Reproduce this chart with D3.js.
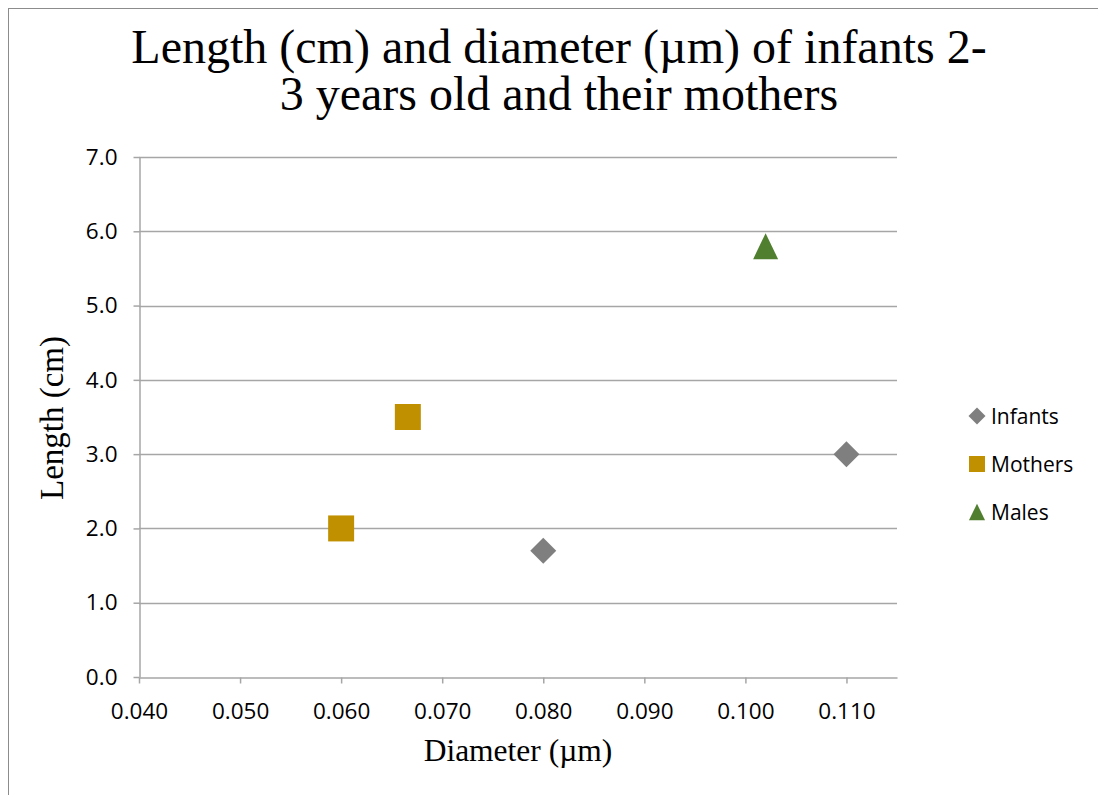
<!DOCTYPE html>
<html>
<head>
<meta charset="utf-8">
<script src="https://cdn.jsdelivr.net/npm/d3@7"></script>
<style>
  body { margin: 0; background: #fff; }
  svg { display: block; }
</style>
</head>
<body>
<div class="chart"></div>
<script>
const w = 1098;
const h = 795;

// data
const seriesNames = ["Infants", "Mothers", "Males"];
const infantsX = [0.080, 0.110];
const infantsY = [1.7, 3.0];
const mothersX = [0.060, 0.0666];
const mothersY = [2.0, 3.5];
const malesX = [0.102];
const malesY = [5.8];
const xTicks = [0.04, 0.05, 0.06, 0.07, 0.08, 0.09, 0.10, 0.11];
const yTicks = [0, 1, 2, 3, 4, 5, 6, 7];
const titleLines = ["Length (cm) and diameter (\u00b5m) of infants 2-", "3 years old and their mothers"];

const colors = {Infants: "#7f7f7f", Mothers: "#c09000", Males: "#4f7f2f"};

// excel style triangle: a bit taller than equilateral, centred on its box
const triangle = {
  draw(ctx, size) {
    const s = Math.sqrt(size);
    const hw = s * 0.48, hh = s * 0.5;
    ctx.moveTo(0, -hh);
    ctx.lineTo(hw, hh);
    ctx.lineTo(-hw, hh);
    ctx.closePath();
  }
};
const shapes = {Infants: d3.symbolDiamond2, Mothers: d3.symbolSquare2, Males: triangle};
const markSize = {Infants: 430, Mothers: 860, Males: 676};
const keySize = {Infants: 184, Mothers: 326, Males: 280};

const series = [
  {name: "Infants", pts: infantsX.map((x, i) => ({x, y: infantsY[i]}))},
  {name: "Mothers", pts: mothersX.map((x, i) => ({x, y: mothersY[i]}))},
  {name: "Males", pts: malesX.map((x, i) => ({x, y: malesY[i]}))}
];

const svg = d3.select(".chart").append("svg")
  .attr("width", w)
  .attr("height", h);

// outer chart border
svg.append("rect")
  .attr("x", 8.5).attr("y", 8.5)
  .attr("width", w + 10).attr("height", h + 10)
  .attr("fill", "none").attr("stroke", "#8c8c8c");

const plot = {left: 139, right: 897, top: 157, bottom: 677};

const x = d3.scaleLinear().domain([0.04, 0.115]).range([plot.left, plot.right]);
const y = d3.scaleLinear().domain([0, 7]).range([plot.bottom, plot.top]);

// gridlines
svg.append("g")
  .selectAll("line")
  .data(yTicks.filter(d => d > 0))
  .enter().append("line")
  .attr("x1", plot.left).attr("x2", plot.right)
  .attr("y1", d => Math.round(y(d)) + 0.5).attr("y2", d => Math.round(y(d)) + 0.5)
  .attr("stroke", "#a6a6a6").attr("stroke-width", 1.5);

// axes
const tickFont = "'Open Sans', Lato, sans-serif";
const serif = "'Liberation Serif', 'Times New Roman', serif";

const yAxis = svg.append("g")
  .attr("transform", `translate(${plot.left + 0.5},0)`)
  .call(d3.axisLeft(y).tickValues(yTicks).tickFormat(d3.format(".1f")).tickSize(6).tickSizeOuter(0).tickPadding(16));

const xAxis = svg.append("g")
  .attr("transform", `translate(0,${plot.bottom + 0.5})`)
  .call(d3.axisBottom(x).tickValues(xTicks).tickFormat(d3.format(".3f")).tickSize(6).tickSizeOuter(0).tickPadding(20));

[xAxis, yAxis].forEach(ax => {
  ax.select(".domain").attr("stroke", "#a6a6a6").attr("stroke-width", 1.5);
  ax.selectAll(".tick line").attr("stroke", "#a6a6a6").attr("stroke-width", 1.5);
  ax.selectAll("text").attr("font-family", tickFont).attr("font-size", 22.5).attr("fill", "#000");
});

// markers
series.forEach(s => {
  svg.append("g")
    .selectAll("path")
    .data(s.pts)
    .enter().append("path")
    .attr("transform", d => `translate(${x(d.x)},${y(d.y)})`)
    .attr("d", d3.symbol().type(shapes[s.name]).size(markSize[s.name])())
    .attr("fill", colors[s.name]);
});

// title
svg.append("text")
  .attr("x", 559).attr("y", 63)
  .attr("text-anchor", "middle")
  .attr("font-family", serif)
  .attr("font-size", 48)
  .selectAll("tspan")
  .data(titleLines)
  .enter().append("tspan")
  .attr("x", 559)
  .attr("dy", (d, i) => i === 0 ? 0 : 47)
  .text(d => d);

// axis titles
svg.append("text")
  .attr("x", 518).attr("y", 761)
  .attr("text-anchor", "middle")
  .attr("font-family", serif)
  .attr("font-size", 31.5)
  .text("Diameter (\u00b5m)");

svg.append("text")
  .attr("transform", "translate(63,418) rotate(-90)")
  .attr("text-anchor", "middle")
  .attr("font-family", serif)
  .attr("font-size", 33)
  .text("Length (cm)");

// legend
const legend = svg.append("g")
  .selectAll("g")
  .data(seriesNames)
  .enter().append("g")
  .attr("transform", (d, i) => `translate(977,${416 + i * 48})`);

legend.append("path")
  .attr("d", d => d3.symbol().type(shapes[d]).size(keySize[d])())
  .attr("fill", d => colors[d]);

legend.append("text")
  .attr("x", 14).attr("dy", "0.36em")
  .attr("font-family", tickFont)
  .attr("font-size", 21)
  .text(d => d);
</script>
</body>
</html>
